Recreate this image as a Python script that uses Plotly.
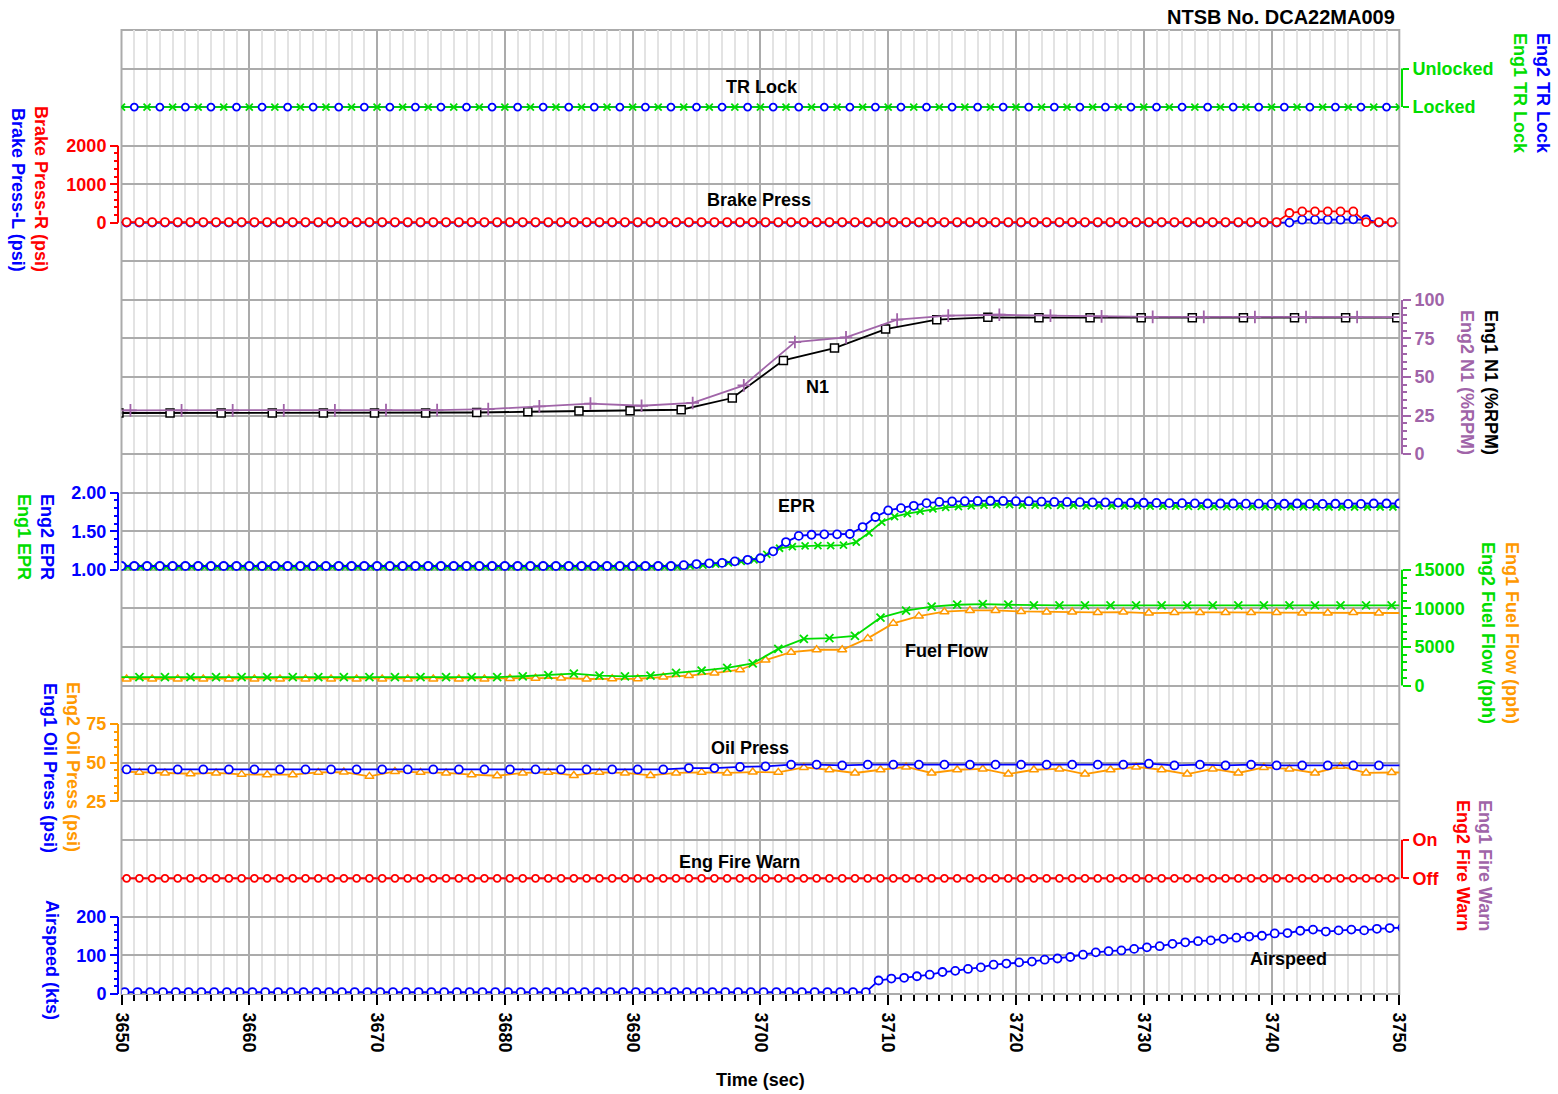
import plotly.graph_objects as go

# ---------------- data ----------------
# Thrust reverser lock state (0 = Locked, 1 = Unlocked)
tr_eng1_time = [3648 + 2 * k for k in range(53)]
tr_eng1 = [0] * 53
tr_eng2_time = [3649 + 2 * k for k in range(52)]
tr_eng2 = [0] * 52

# Brake pressure (psi)
brake_time = [round(3649.4 + k, 1) for k in range(101)]
brake_r = [20] * 92 + [254, 296, 296, 296, 296, 296, 15, 20, 15]
brake_l = [5] * 93 + [80, 80, 80, 80, 90, 85, 5, 5]

# N1 (%RPM)
n1_eng1_time = [round(3649.8 + 4 * k, 1) for k in range(26)]
n1_eng1 = [26.7, 26.7, 26.7, 26.7, 26.7, 26.7, 26.7, 27.0, 27.5, 28.0, 28.2, 28.8,
           36.4, 60.8, 68.8, 81.1, 87.2, 88.7, 88.5, 88.5, 88.5, 88.5, 88.5, 88.5,
           88.5, 88.5]
n1_eng2_time = [round(3646.7 + 4 * k, 1) for k in range(27)]
n1_eng2 = [28.4, 28.4, 28.4, 28.4, 28.4, 28.4, 28.6, 28.6, 29.2, 31.0, 32.8, 31.4,
           33.2, 44.6, 72.7, 75.7, 87.2, 89.8, 90.4, 89.8, 89.3, 89.0, 89.0, 88.9,
           88.9, 88.9, 88.9]

# EPR
epr_eng2_time = [3650 + k for k in range(101)]
epr_eng2 = [1.05] * 44 + [
    1.06, 1.075, 1.085, 1.09, 1.11, 1.13, 1.15, 1.24, 1.36, 1.44, 1.455, 1.46,
    1.46, 1.465, 1.555, 1.685, 1.77, 1.80, 1.83, 1.865, 1.88, 1.887, 1.89, 1.893,
    1.896, 1.893, 1.89, 1.89, 1.885, 1.88, 1.88, 1.878, 1.875, 1.875, 1.872, 1.87,
    1.87, 1.868, 1.865, 1.865, 1.862, 1.86, 1.86, 1.86, 1.858, 1.858, 1.855, 1.857,
    1.86, 1.855, 1.855, 1.857, 1.855, 1.855, 1.86, 1.86, 1.86]
epr_eng1_time = [round(3649.5 + k, 1) for k in range(102)]
epr_eng1 = [1.04] * 45 + [
    1.05, 1.06, 1.075, 1.09, 1.11, 1.13, 1.20, 1.28, 1.30, 1.31, 1.315, 1.315,
    1.32, 1.36, 1.48, 1.62, 1.69, 1.73, 1.76, 1.79, 1.81, 1.82, 1.83, 1.84,
    1.845, 1.845, 1.84, 1.84, 1.835] + [
    1.835, 1.835, 1.83, 1.83, 1.83, 1.828, 1.828, 1.825, 1.825, 1.825, 1.822,
    1.822, 1.82, 1.82, 1.82, 1.82, 1.818, 1.818, 1.818, 1.818, 1.815, 1.815,
    1.815, 1.815, 1.815, 1.815, 1.815, 1.815]

# Fuel flow (pph)
ff_eng2_time = [round(3649.4 + 2 * k, 1) for k in range(52)]
ff_eng2 = [1100] * 16 + [
    1200, 1350, 1530, 1271, 1180, 1271, 1650, 1919, 2300, 2870, 4750, 6050,
    6158, 6430, 8800, 9720, 10220, 10476, 10566, 10476] + [
    10385, 10385, 10400, 10385, 10385, 10385, 10385, 10385, 10400, 10385,
    10385, 10385, 10385, 10385, 10400, 10400]
ff_eng1_time = [round(3648.4 + 2 * k, 1) for k in range(52)]
ff_eng1 = [860] * 16 + [
    900, 950, 972, 843, 870, 880, 1100, 1290, 1620, 2048, 3300, 4320, 4641,
    4641, 6110, 8060, 9000, 9570, 9737, 9737] + [
    9607, 9529, 9529, 9477, 9529, 9400, 9477, 9477, 9477, 9477, 9477, 9400,
    9400, 9477, 9400, 9400]

# Oil pressure (psi)
oil_eng1_time = [round(3648.4 + 2 * k, 1) for k in range(52)]
oil_eng1 = [45.6] * 23 + [46.5, 46.5, 47.2, 47.6, 48.7, 48.7, 48.2, 48.7] + \
    [48.7] * 10 + [49.3, 48.2, 48.7, 48.2, 48.7, 48.2, 48.2, 48.2, 48.2, 48.2, 48.2]
oil_eng2_time = [round(3649.4 + 2 * k, 1) for k in range(52)]
oil_eng2 = [44.3, 43.7, 43.3, 42.8, 43.3, 42.4, 42.2, 42.2, 43.7, 43.9, 41.1, 44.3,
            43.7, 43.3, 42.2, 41.5, 43.3, 43.7, 41.7, 43.7, 43.3, 41.7, 43.3, 43.7,
            43.3, 43.9, 43.7, 46.9, 45.4, 43.3, 45.4, 47.2, 43.3, 45.4, 45.9, 42.6,
            45.4, 45.9, 42.6, 45.4, 47.2, 45.4, 42.6, 45.9, 43.3, 46.9, 45.9, 43.3,
            47.6, 43.3, 43.6, 43.6]

# Engine fire warning (0 = Off, 1 = On)
fire_time = [round(3649.4 + k, 1) for k in range(102)]
fire_eng1 = [0] * 102
fire_eng2 = [0] * 102

# Airspeed (kts)
ias_time = [round(3649.25 + k, 2) for k in range(102)]
ias = [5] * 60 + [
    35, 40, 42, 46, 50, 57, 60, 65, 69, 76, 79, 82, 84, 89, 92, 96, 102, 108,
    111, 113, 117, 121, 124, 130, 134, 137, 139, 143, 146, 149, 151, 157, 158,
    164, 167, 162, 165, 167, 165, 169, 171, 172]

x_ticks = [3650, 3660, 3670, 3680, 3690, 3700, 3710, 3720, 3730, 3740, 3750]

# ---------------- style ----------------
FONT = "Liberation Sans, Arial, sans-serif"
RED = "#FF0000"
BLUE = "#0000FF"
GREEN = "#00DD00"
ORANGE = "#FF9900"
PURPLE = "#A064A8"
BLACK = "#000000"
GRID = "#ABABAB"
MINOR_GRID = "#E3E3E3"

W, H = 1558, 1094
M_L, M_R, M_T, M_B = 118, 156, 30, 100
PW = W - M_L - M_R
PH = H - M_T - M_B


def px_x(px):
    return (px - M_L) / PW


def px_y(py):
    return (M_T + PH - py) / PH


fig = go.Figure()


def add_series(t, v, axis, color, symbol, size=8, lw=1.8, mlw=1.8,
               fill="white", mode="lines+markers"):
    fig.add_trace(go.Scatter(
        x=t, y=v, yaxis=axis, mode=mode,
        line=dict(color=color, width=lw),
        marker=dict(symbol=symbol, size=size, color=fill,
                    line=dict(color=color, width=mlw)),
        showlegend=False, hoverinfo="skip"))


# TR lock
add_series(tr_eng2_time, tr_eng2, "y", BLUE, "circle", mode="lines", size=7)
add_series(tr_eng1_time, tr_eng1, "y", GREEN, "x-thin", size=7, fill=GREEN)
add_series(tr_eng2_time, tr_eng2, "y", BLUE, "circle", mode="markers", size=7)

# Brake pressure
add_series(brake_time, brake_l, "y2", BLUE, "circle", size=8)
add_series(brake_time, brake_r, "y2", RED, "circle", size=8)

# N1
add_series(n1_eng1_time, n1_eng1, "y3", BLACK, "square", size=8, lw=1.8, mlw=1.5)
add_series(n1_eng2_time, n1_eng2, "y3", PURPLE, "cross-thin", size=9, fill=PURPLE)

# EPR
add_series(epr_eng1_time, epr_eng1, "y4", GREEN, "x-thin", size=7, fill=GREEN)
add_series(epr_eng2_time, epr_eng2, "y4", BLUE, "circle", size=8)

# Fuel flow
add_series(ff_eng1_time, ff_eng1, "y5", ORANGE, "triangle-up", size=8, mlw=1.5)
add_series(ff_eng2_time, ff_eng2, "y5", GREEN, "x-thin", size=8, fill=GREEN)

# Oil pressure
add_series(oil_eng2_time, oil_eng2, "y6", ORANGE, "triangle-up", size=8, mlw=1.5)
add_series(oil_eng1_time, oil_eng1, "y6", BLUE, "circle", size=8)

# Engine fire warning
add_series(fire_time, fire_eng1, "y7", PURPLE, "circle", mode="lines")
add_series(fire_time, fire_eng2, "y7", RED, "circle", size=7)

# Airspeed
add_series(ias_time, ias, "y8", BLUE, "circle", size=8)


def rng(v_low, row_low, v_high, row_high, rows=25):
    per_row = (v_high - v_low) / (row_low - row_high)
    return [v_low - (rows - row_low) * per_row, v_low + row_low * per_row]


def y_axis(r, side, color, tickvals, minor_vals=None, ticktext=None,
           fmt="d", base=False):
    ax = dict(
        range=r, side=side, anchor="free",
        position=0 if side == "left" else 1,
        showgrid=False, zeroline=False, showline=False,
        ticks="outside", ticklen=8, tickwidth=2, tickcolor=color,
        tickmode="array", tickvals=tickvals, tickformat=fmt,
        tickfont=dict(color=color, size=18, family=FONT, weight="bold"),
        ticklabelstandoff=0,
        automargin=False, fixedrange=True,
    )
    if ticktext is not None:
        ax["ticktext"] = ticktext
    if not base:
        ax["overlaying"] = "y"
    if minor_vals:
        ax["minor"] = dict(tickmode="array", tickvals=minor_vals,
                           ticks="outside", ticklen=4, tickwidth=2,
                           tickcolor=color, showgrid=False)
    return ax


tr_range = rng(0, 2, 1, 1)
tr_axis = y_axis(tr_range, "right", GREEN, [0, 1], ticktext=["Locked", "Unlocked"],
                 base=True)
tr_axis["ticklen"] = 6
# row grid of the whole chart hangs on this axis (one line per row)
tr_axis["showgrid"] = True
tr_axis["gridcolor"] = GRID
tr_axis["gridwidth"] = 2
tr_axis["minor"] = dict(tickmode="linear", tick0=0, dtick=1, showgrid=True,
                        gridcolor=GRID, gridwidth=2, ticks="")

axes = {
    "yaxis": tr_axis,
    "yaxis2": y_axis(rng(0, 5, 2000, 3), "left", RED, [0, 1000, 2000],
                     [200, 400, 600, 800, 1200, 1400, 1600, 1800]),
    "yaxis3": y_axis(rng(0, 11, 100, 7), "right", PURPLE, [0, 25, 50, 75, 100],
                     [v for v in range(5, 100, 5) if v % 25]),
    "yaxis4": y_axis(rng(1.0, 14, 2.0, 12), "left", BLUE, [1.0, 1.5, 2.0],
                     [1.1, 1.2, 1.3, 1.4, 1.6, 1.7, 1.8, 1.9], fmt=".2f"),
    "yaxis5": y_axis(rng(0, 17, 15000, 14), "right", GREEN, [0, 5000, 10000, 15000],
                     [v for v in range(1000, 15000, 1000) if v % 5000]),
    "yaxis6": y_axis(rng(25, 20, 75, 18), "left", ORANGE, [25, 50, 75],
                     [v for v in range(30, 75, 5) if v % 25]),
    "yaxis7": y_axis(rng(0, 22, 1, 21), "right", RED, [0, 1], ticktext=["Off", "On"]),
    "yaxis8": y_axis(rng(0, 25, 200, 23), "left", BLUE, [0, 100, 200],
                     [v for v in range(20, 200, 20) if v % 100]),
}
axes["yaxis7"]["ticklen"] = 6

# axis spines drawn only over each parameter's scale
spines = [("y", 0, 1, GREEN, 1), ("y2", 0, 2000, RED, 0), ("y3", 0, 100, PURPLE, 1),
          ("y4", 1.0, 2.0, BLUE, 0), ("y5", 0, 15000, GREEN, 1),
          ("y6", 25, 75, ORANGE, 0), ("y7", 0, 1, RED, 1), ("y8", 0, 200, BLUE, 0)]
shapes = [dict(type="line", xref="paper", x0=xp, x1=xp, yref=ax, y0=a, y1=b,
               line=dict(color=c, width=2), layer="above")
          for ax, a, b, c, xp in spines]
shapes.append(dict(type="rect", xref="x domain", yref="y domain", x0=0, x1=1,
                   y0=0, y1=1, line=dict(color=GRID, width=2), layer="below"))

annotations = []


def label(text, x, y, color=BLACK, size=18, angle=0, xref="paper", xanchor="center"):
    annotations.append(dict(text=text, x=x, y=y, xref=xref, yref="paper",
                            showarrow=False, textangle=angle, xanchor=xanchor,
                            yanchor="middle",
                            font=dict(family=FONT, size=size, color=color,
                                      weight="bold")))


label("NTSB No. DCA22MA009", px_x(1397), px_y(17), size=20, xanchor="right")
label("Time (sec)", px_x(760), px_y(1080))

# panel names
for text, t, py in [("TR Lock", 3700.1, 87), ("Brake Press", 3699.9, 200),
                    ("N1", 3704.5, 387), ("EPR", 3702.8, 506),
                    ("Fuel Flow", 3714.6, 651), ("Oil Press", 3699.2, 748),
                    ("Eng Fire Warn", 3698.4, 862), ("Airspeed", 3741.3, 959)]:
    label(text, t, px_y(py), xref="x")

# parameter titles
for text, color, px, py in [
        ("Brake Press-R (psi)", RED, 41, 189), ("Brake Press-L (psi)", BLUE, 18, 190),
        ("Eng2 EPR", BLUE, 47, 537), ("Eng1 EPR", GREEN, 24, 537),
        ("Eng2 Oil Press (psi)", ORANGE, 73, 767), ("Eng1 Oil Press (psi)", BLUE, 50, 768),
        ("Airspeed (kts)", BLUE, 52, 960),
        ("Eng2 TR Lock", BLUE, 1543, 93), ("Eng1 TR Lock", GREEN, 1520, 93),
        ("Eng1 N1 (%RPM)", BLACK, 1491, 382), ("Eng2 N1 (%RPM)", PURPLE, 1467, 382),
        ("Eng1 Fuel Flow (pph)", ORANGE, 1512, 633),
        ("Eng2 Fuel Flow (pph)", GREEN, 1488, 633),
        ("Eng1 Fire Warn", PURPLE, 1485, 865), ("Eng2 Fire Warn", RED, 1463, 865)]:
    label(text, px_x(px), px_y(py), color=color, angle=90)

fig.update_layout(
    width=W, height=H, template="none",
    margin=dict(l=M_L, r=M_R, t=M_T, b=M_B, pad=0),
    paper_bgcolor="white", plot_bgcolor="white",
    showlegend=False,
    xaxis=dict(
        range=[3650, 3750], domain=[px_x(121.5), px_x(1399.3)], anchor="y",
        tickmode="array", tickvals=x_ticks,
        showgrid=True, gridcolor=GRID, gridwidth=2,
        zeroline=False, showline=False,
        ticks="outside", ticklen=10, tickwidth=1.5, tickcolor=BLACK,
        tickangle=90, ticklabelstandoff=4,
        tickfont=dict(family=FONT, size=18, color=BLACK, weight="bold"),
        minor=dict(tickmode="linear", tick0=3650, dtick=1, showgrid=True,
                   gridcolor=MINOR_GRID, gridwidth=2, ticks="outside",
                   ticklen=6, tickwidth=1.5, tickcolor=BLACK),
        automargin=False, fixedrange=True,
    ),
    shapes=shapes,
    annotations=annotations,
    **axes,
)

fig.write_html("out.html")
